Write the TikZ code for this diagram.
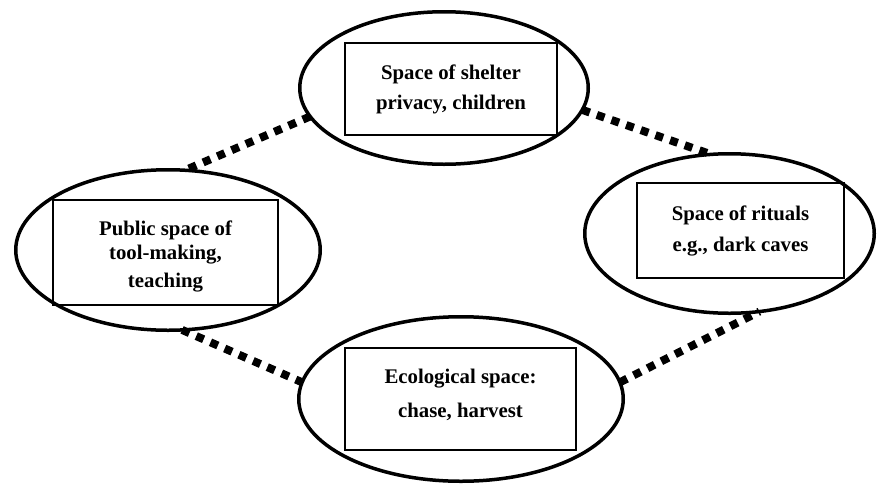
\documentclass[tikz,border=0pt]{standalone}
\usepackage{fontspec}
\setmainfont{Liberation Serif}
\usetikzlibrary{shapes.geometric}
\tikzset{
  place/.style={ellipse, draw, line width=3.5pt, inner sep=0pt, outer sep=0pt},
  labelbox/.style={rectangle, draw, line width=1.3pt, inner sep=0pt, align=center,
    font=\bfseries\fontsize{20.8}{30}\selectfont},
  link/.style={line width=8pt, dash pattern=on 8pt off 7.5pt}
}
\begin{document}
\begin{tikzpicture}[x=1pt,y=-1pt]
\useasboundingbox (0,0) rectangle (877,485);

% the four spaces
\node[place, minimum width=288.5pt, minimum height=152.5pt] (shelter) at (444,88) {};
\node[place, minimum width=304.5pt, minimum height=160.5pt] (public) at (168,250) {};
\node[place, minimum width=289.5pt, minimum height=159.5pt] (rituals) at (729.5,233.5) {};
\node[place, minimum width=324.5pt, minimum height=164.5pt] (ecology) at (461,399) {};

% captions in their boxes
\node[labelbox, minimum width=212pt, minimum height=92pt] (shelterbox) at (451,89)
  {Space of shelter\\privacy, children};
\node[labelbox, minimum width=225pt, minimum height=105pt,
      font=\bfseries\fontsize{20.8}{26}\selectfont] (publicbox) at (165.5,252.5)
  {\rule{0pt}{23pt}Public space of\\[-2pt]tool-making,\\[2pt]teaching};
\node[labelbox, minimum width=207pt, minimum height=95pt,
      font=\bfseries\fontsize{20.8}{31}\selectfont] (ritualsbox) at (740.5,230.5)
  {Space of rituals\\e.g., dark caves};
\node[labelbox, minimum width=231pt, minimum height=102pt,
      font=\bfseries\fontsize{20.8}{34}\selectfont] (ecologybox) at (460.5,399)
  {Ecological space:\\chase, harvest\\[-22pt]\mbox{}};

% dotted links around the ring
\draw[link] (shelter.192) -- (public.78);
\draw[link] (shelter.-9) -- (rituals.103);
\draw[link] (public.280) -- (ecology.174);
\draw[link] (ecology.6) -- (rituals.-69);
\end{tikzpicture}
\end{document}
